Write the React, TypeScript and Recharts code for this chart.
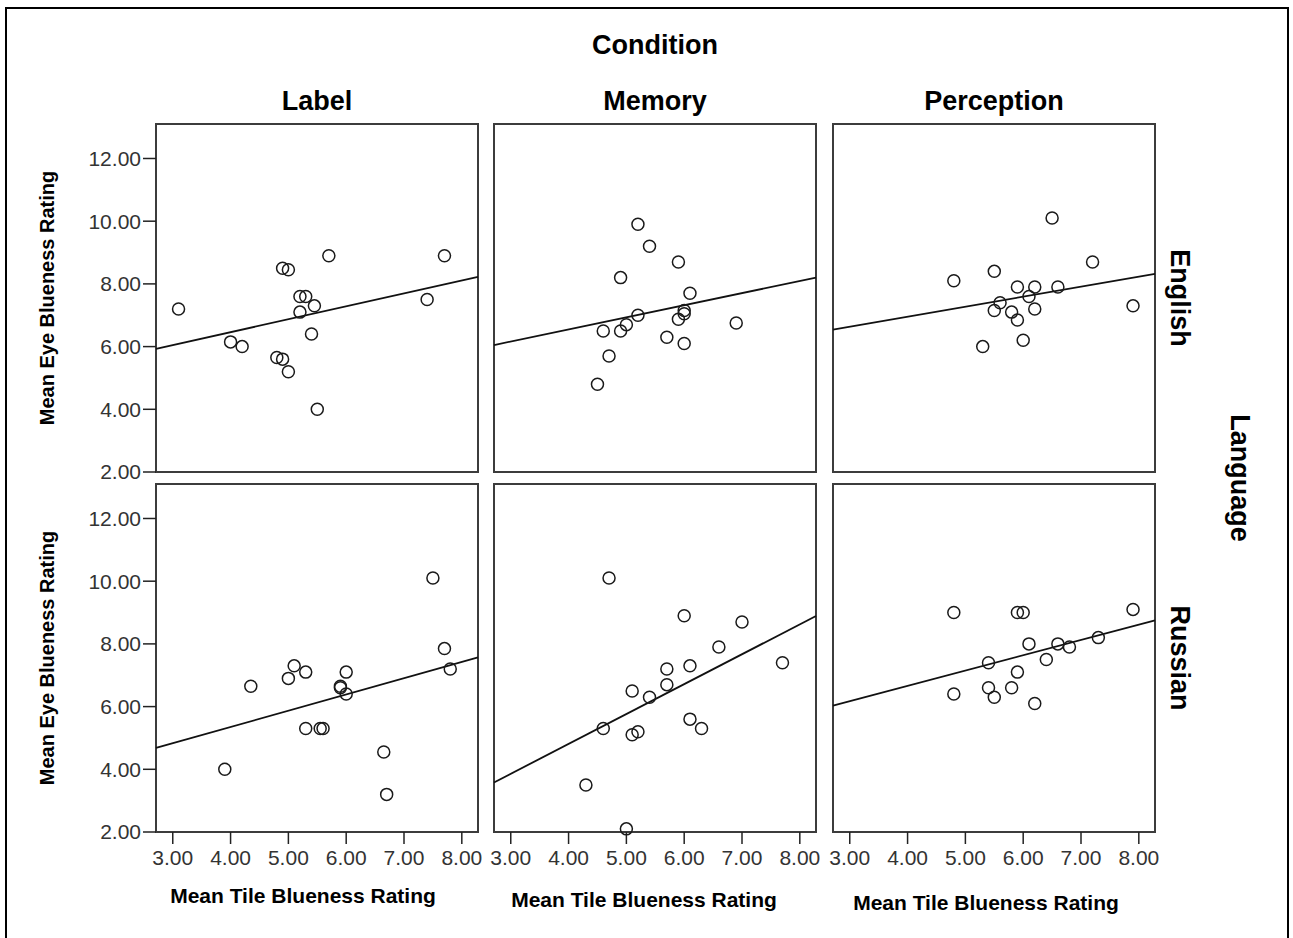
import React from 'react';
import { ScatterChart, Scatter, XAxis, YAxis, ReferenceArea, ReferenceLine } from 'recharts';

// 2x3 grid of scatter plots (Condition x Language), each with its own fit line.

const conditions = ['Label', 'Memory', 'Perception'];
const languages = ['English', 'Russian'];
const xTicks = [3, 4, 5, 6, 7, 8];
const yTicks = [2, 4, 6, 8, 10, 12];

const labelEnglishX = [3.1, 4.0, 4.2, 4.9, 5.0, 4.8, 4.9, 5.0, 5.2, 5.3, 5.2, 5.45, 5.4, 5.7, 5.5, 7.4, 7.7];
const labelEnglishY = [7.2, 6.15, 6.0, 8.5, 8.45, 5.65, 5.6, 5.2, 7.6, 7.6, 7.1, 7.3, 6.4, 8.9, 4.0, 7.5, 8.9];
const memoryEnglishX = [5.2, 5.4, 5.9, 4.9, 6.1, 6.0, 6.0, 5.9, 5.2, 5.0, 4.6, 4.9, 5.7, 6.0, 6.9, 4.7, 4.5];
const memoryEnglishY = [9.9, 9.2, 8.7, 8.2, 7.7, 7.15, 7.05, 6.87, 7.0, 6.7, 6.5, 6.5, 6.3, 6.1, 6.75, 5.7, 4.8];
const perceptionEnglishX = [6.5, 7.2, 5.5, 4.8, 5.9, 6.2, 6.6, 6.1, 5.6, 5.5, 5.8, 6.2, 5.9, 6.0, 5.3, 7.9];
const perceptionEnglishY = [10.1, 8.7, 8.4, 8.1, 7.9, 7.9, 7.9, 7.6, 7.4, 7.15, 7.1, 7.2, 6.85, 6.2, 6.0, 7.3];

const labelRussianX = [7.5, 7.7, 7.8, 4.35, 5.1, 5.0, 5.3, 6.0, 5.9, 5.9, 6.0, 5.3, 5.55, 5.6, 6.65, 6.7, 3.9];
const labelRussianY = [10.1, 7.85, 7.2, 6.65, 7.3, 6.9, 7.1, 7.1, 6.65, 6.6, 6.4, 5.3, 5.3, 5.3, 4.55, 3.2, 4.0];
const memoryRussianX = [4.7, 6.0, 7.0, 6.6, 7.7, 5.7, 6.1, 5.7, 5.1, 5.4, 4.6, 5.1, 5.2, 6.1, 6.3, 4.3, 5.0];
const memoryRussianY = [10.1, 8.9, 8.7, 7.9, 7.4, 7.2, 7.3, 6.7, 6.5, 6.3, 5.3, 5.1, 5.2, 5.6, 5.3, 3.5, 2.1];
const perceptionRussianX = [4.8, 5.9, 6.0, 7.9, 7.3, 6.1, 6.6, 6.8, 6.4, 5.4, 5.9, 5.4, 5.8, 4.8, 5.5, 6.2];
const perceptionRussianY = [9.0, 9.0, 9.0, 9.1, 8.2, 8.0, 8.0, 7.9, 7.5, 7.4, 7.1, 6.6, 6.6, 6.4, 6.3, 6.1];

// fit line value at the left and right edge of each panel (row-major order)
const fitLeft = [5.93, 6.05, 6.54, 4.68, 3.58, 6.03];
const fitRight = [8.22, 8.2, 8.32, 7.57, 8.89, 8.75];

const X_DOMAIN: [number, number] = [2.71, 8.28];
const Y_DOMAIN: [number, number] = [2, 13.1];

const FONT = '"Liberation Sans", Arial, Helvetica, sans-serif';
const PLOT_W = 322;
const PLOT_H = 348;
const Y_AXIS_W = 70;
const X_AXIS_H = 50;
const PAD = 4;
const COL_LEFT = [156, 494, 833];
const ROW_TOP = [124, 484];

const fmt = (v: number) => v.toFixed(2);

function Ring(props: { cx?: number; cy?: number }) {
  const { cx, cy } = props;
  if (cx == null || cy == null) return <g />;
  return <circle cx={cx} cy={cy} r={6} fill="none" stroke="#1a1a1a" strokeWidth={1.5} />;
}

function Panel({ xs, ys, fit, showX, showY, left, top }: {
  xs: number[]; ys: number[]; fit: [number, number];
  showX: boolean; showY: boolean; left: number; top: number;
}) {
  const data = xs.map((x, i) => ({ x, y: ys[i] }));
  const tickStyle = { fill: '#333', fontSize: 21, fontFamily: FONT };
  const tickLine = { stroke: '#222', strokeWidth: 1.5 };
  return (
    <div style={{ position: 'absolute', left: left - Y_AXIS_W, top: top - PAD }}>
      <ScatterChart
        width={Y_AXIS_W + PLOT_W + PAD}
        height={PAD + PLOT_H + X_AXIS_H}
        margin={{ top: PAD, right: PAD, bottom: 0, left: 0 }}
      >
        <XAxis
          type="number"
          dataKey="x"
          domain={X_DOMAIN}
          ticks={xTicks}
          interval={0}
          tickFormatter={fmt}
          height={X_AXIS_H}
          axisLine={false}
          tick={showX ? tickStyle : false}
          tickLine={showX ? tickLine : false}
          tickSize={12}
          tickMargin={6}
        />
        <YAxis
          type="number"
          dataKey="y"
          domain={Y_DOMAIN}
          ticks={yTicks}
          interval={0}
          tickFormatter={fmt}
          width={Y_AXIS_W}
          axisLine={false}
          tick={showY ? tickStyle : false}
          tickLine={showY ? tickLine : false}
          tickSize={13}
          tickMargin={2}
        />
        <ReferenceArea
          x1={X_DOMAIN[0]}
          x2={X_DOMAIN[1]}
          y1={Y_DOMAIN[0]}
          y2={Y_DOMAIN[1]}
          fill="none"
          stroke="#3c3c3c"
          strokeWidth={2}
        />
        <ReferenceLine
          segment={[{ x: X_DOMAIN[0], y: fit[0] }, { x: X_DOMAIN[1], y: fit[1] }]}
          stroke="#111"
          strokeWidth={1.8}
        />
        <Scatter data={data} shape={<Ring />} isAnimationActive={false} />
      </ScatterChart>
    </div>
  );
}

function Label({ text, x, y, size, rotate = 0 }: {
  text: string; x: number; y: number; size: number; rotate?: number;
}) {
  return (
    <div
      style={{
        position: 'absolute',
        left: x,
        top: y,
        transform: `translate(-50%, -50%) rotate(${rotate}deg)`,
        fontFamily: FONT,
        fontWeight: 700,
        fontSize: size,
        color: '#000',
        whiteSpace: 'nowrap',
        lineHeight: 1,
      }}
    >
      {text}
    </div>
  );
}

export default function App() {
  const series = [
    [labelEnglishX, labelEnglishY],
    [memoryEnglishX, memoryEnglishY],
    [perceptionEnglishX, perceptionEnglishY],
    [labelRussianX, labelRussianY],
    [memoryRussianX, memoryRussianY],
    [perceptionRussianX, perceptionRussianY],
  ];
  const xTitleY = [895, 899, 902];

  return (
    <div style={{ position: 'absolute', left: 0, top: 0, width: 1293, height: 938, overflow: 'hidden', background: '#fff' }}>
      <div style={{ position: 'absolute', left: 5, top: 7, width: 1280, height: 960, border: '2px solid #000' }} />

      <Label text="Condition" x={655} y={45} size={27} />
      {conditions.map((c, i) => (
        <Label key={c} text={c} x={COL_LEFT[i] + PLOT_W / 2} y={101} size={27} />
      ))}
      {languages.map((l, r) => (
        <Label key={l} text={l} x={1179} y={ROW_TOP[r] + PLOT_H / 2} size={27} rotate={90} />
      ))}
      <Label text="Language" x={1239} y={478} size={27} rotate={90} />
      {languages.map((l, r) => (
        <Label key={'yt' + l} text="Mean Eye Blueness Rating" x={47} y={ROW_TOP[r] + PLOT_H / 2} size={20} rotate={-90} />
      ))}
      {conditions.map((c, i) => (
        <Label key={'xt' + c} text="Mean Tile Blueness Rating" x={COL_LEFT[i] + PLOT_W / 2 - 14 + i * 3} y={xTitleY[i]} size={21} />
      ))}

      {series.map(([xs, ys], k) => {
        const r = Math.floor(k / 3);
        const c = k % 3;
        return (
          <Panel
            key={k}
            xs={xs}
            ys={ys}
            fit={[fitLeft[k], fitRight[k]]}
            showX={r === 1}
            showY={c === 0}
            left={COL_LEFT[c]}
            top={ROW_TOP[r]}
          />
        );
      })}
    </div>
  );
}
